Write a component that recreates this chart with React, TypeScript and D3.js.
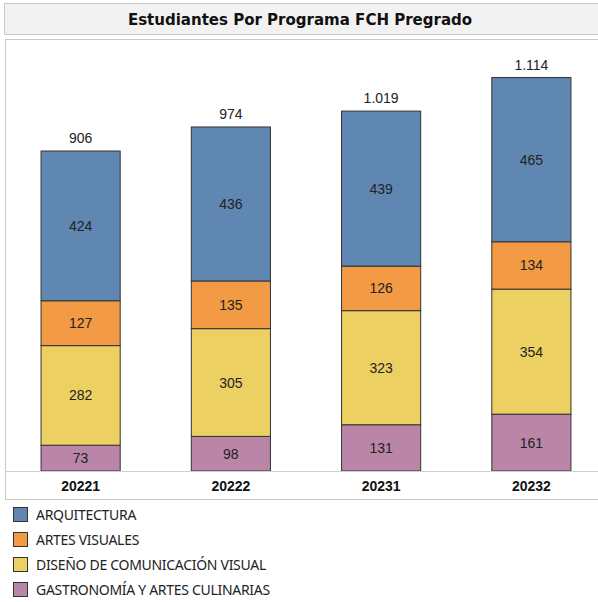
import React from "react";
import * as d3 from "d3";

const categories = ["20221", "20222", "20231", "20232"];
const programs = [
  "ARQUITECTURA",
  "ARTES VISUALES",
  "DISEÑO DE COMUNICACIÓN VISUAL",
  "GASTRONOMÍA Y ARTES CULINARIAS",
];
const arquitectura = [424, 436, 439, 465];
const artesVisuales = [127, 135, 126, 134];
const disenio = [282, 305, 323, 354];
const gastronomia = [73, 98, 131, 161];
const colors = ["#5f87b1", "#f39a45", "#edd062", "#b986a8"];

const W = 598;
const H = 602;

export default function App() {
  const series = [arquitectura, artesVisuales, disenio, gastronomia];
  const stackOrder = [3, 2, 1, 0];
  const totals = categories.map((_, i) => series.reduce((s, a) => s + a[i], 0));

  const x = d3.scaleBand<string>().domain(categories).range([6, 606]).paddingInner(0.4733).paddingOuter(0.2333);
  const y = d3.scaleLinear().domain([0, 906]).range([471, 151]);
  const fmt = (v: number) => d3.format(",")(v).replace(/,/g, ".");

  const bars: React.ReactNode[] = [];
  categories.forEach((c, i) => {
    let base = 0;
    stackOrder.forEach((si) => {
      const v = series[si][i];
      const y0 = y(base);
      const y1 = y(base + v);
      bars.push(
        <g key={c + si}>
          <rect x={x(c)!} y={y1} width={x.bandwidth()} height={y0 - y1} fill={colors[si]} stroke="#333" strokeWidth={1} />
          <text x={x(c)! + x.bandwidth() / 2} y={(y0 + y1) / 2 + 5} textAnchor="middle" fontFamily="Liberation Sans, Arial, sans-serif" fontSize={14} fill="#222">{fmt(v)}</text>
        </g>
      );
      base += v;
    });
    bars.push(
      <text key={c + "tot"} x={x(c)! + x.bandwidth() / 2} y={y(totals[i]) - 8} textAnchor="middle" fontFamily="Liberation Sans, Arial, sans-serif" fontSize={14} fill="#222">{fmt(totals[i])}</text>
    );
  });

  return (
    <svg width={W} height={H} style={{ position: "absolute", left: 0, top: 0 }}>
      <rect x={4.5} y={3.5} width={600} height={31} fill="#f2f2f2" stroke="#c8c8c8" />
      <text x={300} y={25} textAnchor="middle" fontFamily="DejaVu Sans Condensed, DejaVu Sans, sans-serif" fontWeight="bold" fontSize={16.7} fill="#111">Estudiantes Por Programa FCH Pregrado</text>
      <rect x={5.5} y={39.5} width={600} height={460} fill="#fff" stroke="#c8c8c8" />
      {bars}
      <line x1={5} x2={598} y1={471.5} y2={471.5} stroke="#d0d0d0" />
      {categories.map((c) => (
        <text key={c} x={x(c)! + x.bandwidth() / 2} y={491} textAnchor="middle" fontFamily="Liberation Sans, Arial, sans-serif" fontWeight="bold" fontSize={14} fill="#111">{c}</text>
      ))}
      {programs.map((p, i) => (
        <g key={p}>
          <rect x={13.5} y={507.5 + i * 25} width={14} height={14} fill={colors[i]} stroke="#333" />
          <text x={36} y={520 + i * 25} fontFamily="Noto Sans, sans-serif" fontSize={14} fill="#222" style={{ letterSpacing: "-0.3px" }}>{p}</text>
        </g>
      ))}
    </svg>
  );
}
